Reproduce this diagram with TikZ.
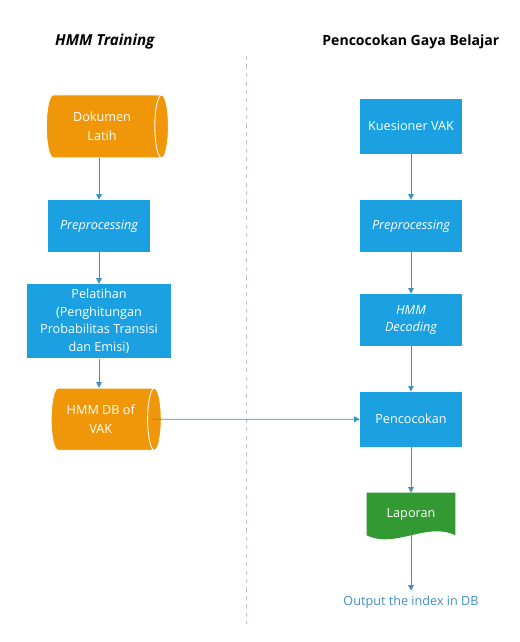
\documentclass[tikz,border=0pt]{standalone}
\usepackage{fontspec}
\setmainfont{Open Sans}
\usepackage{tikz}
\usetikzlibrary{shapes.geometric, positioning, arrows.meta, calc, backgrounds}

\definecolor{boxblue}{HTML}{1BA1E2}
\definecolor{dborange}{HTML}{F09609}
\definecolor{docgreen}{HTML}{339933}
\definecolor{linkblue}{HTML}{3F8FC0}
\definecolor{lanegray}{HTML}{B8C4CC}

\begin{document}
\begin{tikzpicture}[
    process/.style={rectangle, fill=boxblue, text=white, minimum width=2.55cm, minimum height=1.3cm, align=center, font=\fontsize{9}{12.6}\selectfont},
    storage/.style={cylinder, shape border rotate=0, aspect=0.35, draw=white, line width=0.6pt, cylinder uses custom fill, cylinder body fill=dborange, cylinder end fill=dborange, text=white, minimum width=1.57cm, minimum height=3.05cm, align=center, font=\fontsize{9}{14}\selectfont},
    report/.style={rectangle, text=white, minimum width=2.2cm, minimum height=1.05cm, font=\fontsize{9}{11}\selectfont},
    heading/.style={font=\fontsize{10}{12}\selectfont\bfseries},
    link/.style={draw=linkblue, line width=0.6pt, -{Triangle[width=4pt, length=4pt]}}
]
    \useasboundingbox (0,0) rectangle (13,-16.05);

    % Titles
    \node[heading, font=\fontsize{10.8}{12}\selectfont\bfseries\itshape] (lefttitle) at (2.62,-1.05) {HMM Training};
    \node[heading] (righttitle) at (10.27,-1.05) {Pencocokan Gaya Belajar};

    % Lane separator
    \coordinate (lanetop) at (6.15,-1.4);
    \coordinate (lanebot) at (6.15,-15.6);
    \draw[lanegray, dashed, line width=0.6pt] (lanetop) -- (lanebot);

    % HMM Training
    \node[storage] (dokumen) at (2.55,-3.16) {Dokumen\\Latih};
    \node[process] (prepleft) at (2.475,-5.65) {\itshape Preprocessing};
    \node[process, minimum width=3.62cm, minimum height=1.82cm] (pelatihan) at (2.475,-8.03) {Pelatihan\\(Penghitungan\\Probabilitas Transisi\\dan Emisi)};
    \node[storage, minimum width=1.55cm, minimum height=2.75cm] (hmmdb) at (2.52,-10.48) {HMM DB of\\VAK};

    % Pencocokan Gaya Belajar
    \node[process, minimum height=1.37cm] (kuesioner) at (10.275,-3.16) {Kuesioner VAK};
    \node[process] (prepright) at (10.275,-5.65) {\itshape Preprocessing};
    \node[process] (decoding) at (10.275,-8.0) {\itshape HMM\\\itshape Decoding};
    \node[process, minimum height=1.37cm] (pencocokan) at (10.275,-10.48) {Pencocokan};
    \node[report] (laporan) at (10.275,-12.85) {Laporan};
    \node[text=linkblue, font=\fontsize{9}{11}\selectfont] (output) at (10.275,-15.05) {Output the index in DB};

    \begin{scope}[on background layer]
        \fill[docgreen] (laporan.north west) -- (laporan.north east) -- (laporan.south east)
            .. controls +(-0.7,0.35) and +(0.7,-0.35) .. (laporan.south west) -- cycle;
    \end{scope}

    % Connections
    \draw[link] (dokumen.south -| prepleft.north) -- (prepleft.north);
    \draw[link] (prepleft) -- (pelatihan);
    \draw[link] (pelatihan) -- (hmmdb.north -| pelatihan.south);
    \draw[link] ([xshift=-0.22cm]hmmdb.east) -- (pencocokan.west);
    \draw[link] (kuesioner) -- (prepright);
    \draw[link] (prepright) -- (decoding);
    \draw[link] (decoding) -- (pencocokan);
    \draw[link] (pencocokan) -- (laporan);
    \draw[link] (laporan.south) -- (output.north);
\end{tikzpicture}
\end{document}
